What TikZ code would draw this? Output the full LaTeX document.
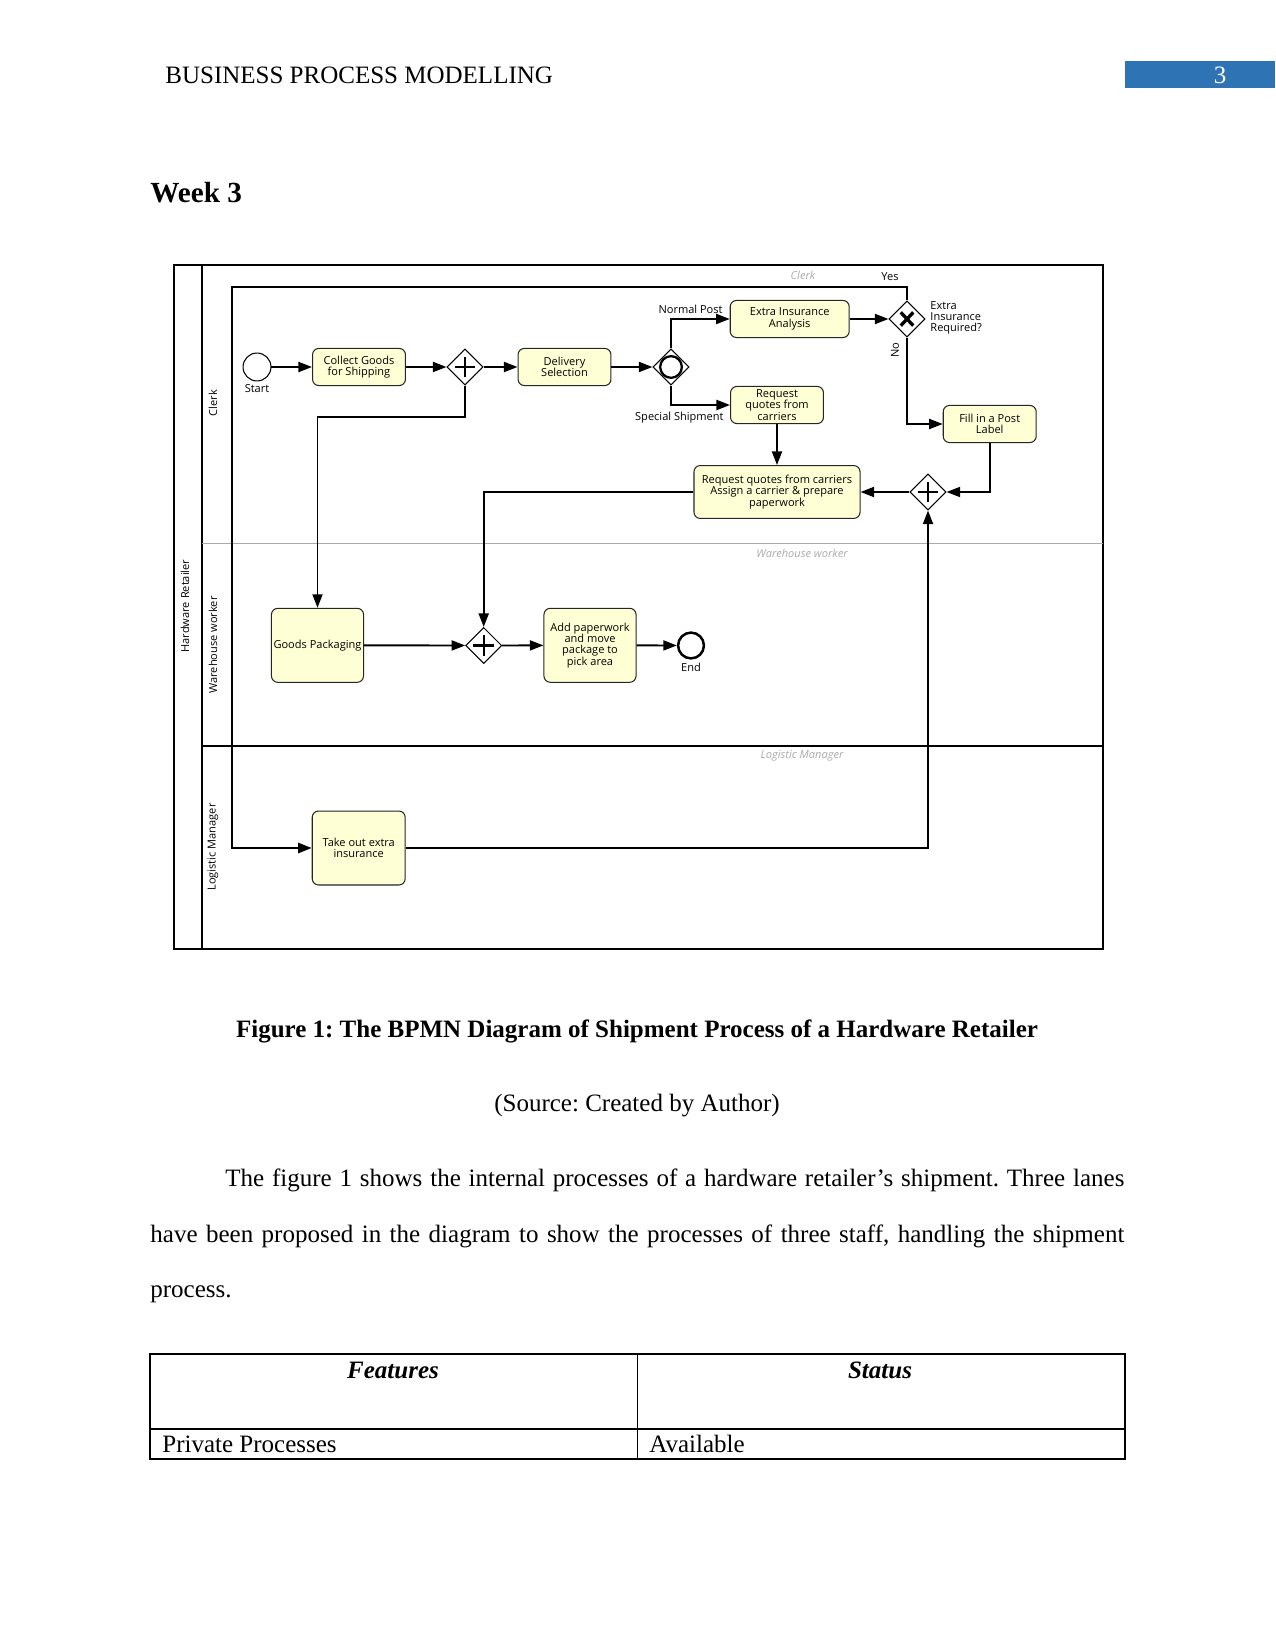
\documentclass[tikz,border=0pt]{standalone}
\usepackage{fontspec}
\setmainfont{Liberation Serif}
\newfontfamily\dia{Open Sans}
\usetikzlibrary{arrows.meta,shapes.geometric,calc}
\definecolor{taskfill}{RGB}{255,255,214}
\definecolor{hdrblue}{RGB}{46,116,181}
\definecolor{lanegray}{RGB}{170,170,170}
\frenchspacing
\begin{document}
\frenchspacing
\begin{tikzpicture}[x=0.48pt,y=-0.48pt,
  dfont/.style={font=\dia\fontsize{5.3}{5.4}\selectfont},
  task/.style={draw=black!85, line width=0.5pt, rounded corners=3pt, fill=taskfill,
    align=center, dfont, inner sep=0pt, minimum width=44.6pt, minimum height=17.8pt},
  gw/.style={diamond, draw, line width=0.5pt, fill=white, minimum width=17.3pt,
    minimum height=17.3pt, inner sep=0pt},
  pgw/.style={gw, path picture={\draw[line width=1pt]
    ([xshift=-5pt]path picture bounding box.center) -- ([xshift=5pt]path picture bounding box.center)
    ([yshift=-5pt]path picture bounding box.center) -- ([yshift=5pt]path picture bounding box.center);}},
  xgw/.style={gw, path picture={\draw[line width=1.6pt]
    ([shift={(-3pt,-3.2pt)}]path picture bounding box.center) -- ([shift={(3pt,3.2pt)}]path picture bounding box.center)
    ([shift={(-3pt,3.2pt)}]path picture bounding box.center) -- ([shift={(3pt,-3.2pt)}]path picture bounding box.center);}},
  igw/.style={gw, path picture={\draw[line width=1.1pt]
    (path picture bounding box.center) circle (5.2pt);}},
  flow/.style={line width=0.9pt, -{Triangle[length=6.5pt,width=4.8pt]}},
  thickflow/.style={line width=1.2pt, -{Triangle[length=6.5pt,width=4.8pt]}},
  lbl/.style={dfont, inner sep=0pt},
  ghost/.style={font=\dia\itshape\fontsize{5.3}{5.4}\selectfont, text=lanegray, inner sep=0pt},
  body/.style={font=\fontsize{12}{14}\selectfont, inner sep=0pt}
]
\useasboundingbox (0,0) rectangle (1275,1650);

% ---------- page header ----------
\node[body, anchor=west] (hdr) at (165,75) {BUSINESS PROCESS MODELLING};
\fill[hdrblue] (1125,61) rectangle (1275,88);
\node[body, text=white] (pg) at (1220,75) {3};
\node[font=\bfseries\fontsize{14}{16}\selectfont, inner sep=0pt, anchor=west] (week) at (150,193) {Week 3};

% ---------- pool and lanes ----------
\draw[line width=0.5pt] (174,265) rectangle (1103,949);
\draw[line width=0.5pt] (202,265) -- (202,949);
\draw[line width=0.4pt, draw=lanegray] (202,543) -- (1103,543);
\draw[line width=0.5pt] (202,746) -- (1103,746);
\node[lbl, rotate=90] (lpool) at (185,606) {Hardware Retailer};
\node[lbl, rotate=90] (lclerk) at (213,403) {Clerk};
\node[lbl, rotate=90] (lware) at (213,645) {Warehouse worker};
\node[lbl, rotate=90] (llog) at (213,847) {Logistic Manager};
\node[ghost] (gclerk) at (803,275) {Clerk};
\node[ghost] (gware) at (802,553) {Warehouse worker};
\node[ghost] (glog) at (802,756) {Logistic Manager};

% ---------- nodes ----------
\node[circle, draw, line width=0.5pt, fill=white, minimum size=13.4pt, inner sep=0pt] (start) at (257,367) {};
\node[lbl] (startl) at (257,389) {Start};
\node[task] (collect) at (359,367) {Collect Goods\\for Shipping};
\node[pgw] (g1) at (465,367) {};
\node[task] (deliv) at (564.5,367) {Delivery\\Selection};
\node[igw] (g2) at (671,367) {};
\node[task, minimum width=57.1pt] (extra) at (789.7,319) {Extra Insurance\\Analysis};
\node[task] (reqq) at (777,405) {Request\\quotes from\\carriers};
\node[xgw] (gx) at (907,319) {};
\node[task] (fill) at (989.7,424) {Fill in a Post\\Label};
\node[task, minimum width=79.7pt, minimum height=25.4pt] (big) at (777,492) {Request quotes from carriers\\Assign a carrier \& prepare\\paperwork};
\node[pgw] (g4) at (928,492) {};
\node[task, minimum width=44.2pt, minimum height=35.5pt] (goods) at (317.5,645.3) {Goods Packaging};
\node[pgw] (g3) at (483.7,645.5) {};
\node[task, minimum width=44.2pt, minimum height=35.5pt] (addp) at (590,645.3) {Add paperwork\\and move\\package to\\pick area};
\node[circle, draw, line width=1.2pt, fill=white, minimum size=12.4pt, inner sep=0pt] (end) at (691,645.5) {};
\node[lbl] (endl) at (691,667) {End};
\node[task, minimum width=44.6pt, minimum height=35.5pt] (take) at (358.7,848) {Take out extra\\insurance};

% ---------- labels ----------
\node[lbl, anchor=east] (lnormal) at (723,309) {Normal Post};
\node[lbl, anchor=east] (lspecial) at (724,418) {Special Shipment};
\node[lbl, anchor=west, align=left] (lq) at (930,318) {Extra\\Insurance\\Required?};
\node[lbl] (lyes) at (890,277) {Yes};
\node[lbl, rotate=90] (lno) at (895,350) {No};

% ---------- bend coordinates ----------
\coordinate (b1) at (465,417);
\coordinate (y1) at (907,287);
\coordinate (y2) at (232,287);

% ---------- flows ----------
\draw[flow] (start) -- (collect);
\draw[flow] (collect) -- (g1);
\draw[flow] (g1) -- (deliv);
\draw[flow] (deliv) -- (g2);
\draw[flow] (g2.north) |- (extra.west);
\draw[flow] (g2.south) |- (reqq.west);
\draw[flow] (extra) -- (gx);
\draw[thickflow] (gx.north) -- (y1) -- (y2) |- (take.west);
\draw[flow] (gx.south) |- (fill.west);
\draw[flow] (reqq.south) -- (big.north);
\draw[flow] (fill.south) |- (g4.east);
\draw[flow] (g4.west) -- (big.east);
\draw[flow] (big.west) -| (g3.north);
\draw[flow] (g1.south) -- (b1) -| (goods.north);
\draw[flow] (goods) -- (g3);
\draw[flow] (g3) -- (addp);
\draw[flow] (addp) -- (end);
\draw[flow] (take.east) -| (g4.south);

% ---------- caption and text ----------
\node[body, font=\bfseries\fontsize{12}{14}\selectfont] (cap) at (637,1031) {Figure 1: The BPMN Diagram of Shipment Process of a Hardware Retailer};
\node[body] (src) at (637,1106) {(Source: Created by Author)};
\node[body, anchor=west] (p1) at (225,1180) {\hbox to 431.5pt{The figure 1 shows the internal processes of a hardware retailer’s shipment. Three lanes}};
\node[body, anchor=west] (p2) at (150,1236) {\hbox to 467.5pt{have been proposed in the diagram to show the processes of three staff, handling the shipment}};
\node[body, anchor=west] (p3) at (150,1294) {process.};

% ---------- table ----------
\draw[line width=0.5pt] (150,1354) rectangle (1125,1459);
\draw[line width=0.5pt] (637.5,1354) -- (637.5,1459);
\draw[line width=0.5pt] (150,1429) -- (1125,1429);
\node[body, font=\bfseries\itshape\fontsize{12}{14}\selectfont] (tf) at (393,1370) {Features};
\node[body, font=\bfseries\itshape\fontsize{12}{14}\selectfont] (ts) at (880,1370) {Status};
\node[body, anchor=west] (tp) at (162,1444) {Private Processes};
\node[body, anchor=west] (ta) at (649,1444) {Available};
\end{tikzpicture}
\end{document}
